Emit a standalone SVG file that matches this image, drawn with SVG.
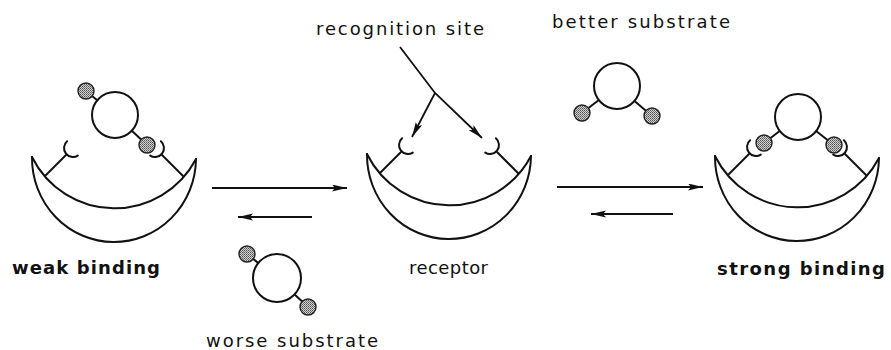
<svg xmlns="http://www.w3.org/2000/svg" xmlns:xlink="http://www.w3.org/1999/xlink" width="891" height="350" viewBox="0 0 891 350">
  <style>
    .ln { fill: none; stroke: #111; stroke-width: 2; stroke-linecap: round; stroke-linejoin: round; }
    .ring { fill: #fff; stroke: #111; stroke-width: 2; }
    .ball { fill: url(#stipple); stroke: #222; stroke-width: 1.4; }
    .bond { stroke: #111; stroke-width: 2; }
    .arrow { fill: none; stroke: #111; stroke-width: 1.8; marker-end: url(#head); }
    .lbl { font-family: "DejaVu Sans", "Liberation Sans", sans-serif; font-size: 18px; fill: #111; }
    .bold { font-weight: bold; }
  </style>
  <defs>
    <pattern id="stipple" width="2" height="2" patternUnits="userSpaceOnUse">
      <rect width="2" height="2" fill="#cfcfcf"/>
      <rect width="1" height="1" fill="#555"/>
      <rect x="1" y="1" width="1" height="1" fill="#777"/>
    </pattern>
    <marker id="head" markerUnits="userSpaceOnUse" markerWidth="16" markerHeight="8" refX="15" refY="3.5" orient="auto">
      <path d="M0,0 L15,3.5 L0,7 L3,3.5 Z" fill="#111"/>
    </marker>
    <!-- crescent receptor with two cup-shaped recognition sites; origin at left tip -->
    <g id="receptor-shape">
      <path class="ln" d="M0,0 A82,84 0 0 0 164,2"/>
      <path class="ln" d="M0,0 A92,92 0 0 0 164,2"/>
      <path class="ln" d="M13,19 L34,-2"/>
      <path class="ln" d="M151,19 L130,-2"/>
      <path class="ln" d="M35.1,-15.8 A9,9 0 0 0 45.8,-1.4"/>
      <path class="ln" d="M128.9,-15.8 A9,9 0 0 1 118.2,-1.4"/>
    </g>
  </defs>

  <!-- receptor holding the worse substrate -->
  <g id="weak-complex">
    <use xlink:href="#receptor-shape" href="#receptor-shape" transform="translate(32,157)"/>
    <line class="bond" x1="115" y1="115" x2="86" y2="91"/>
    <line class="bond" x1="115" y1="115" x2="147" y2="145"/>
    <circle class="ring" cx="115" cy="115" r="23"/>
    <circle class="ball" cx="86" cy="91" r="8"/>
    <circle class="ball" cx="147" cy="145" r="8"/>
    <text class="lbl bold" x="12" y="274" textLength="148">weak binding</text>
  </g>

  <!-- free receptor -->
  <g id="receptor">
    <use xlink:href="#receptor-shape" href="#receptor-shape" transform="translate(367,154)"/>
    <text class="lbl" x="409" y="274" textLength="79">receptor</text>
  </g>

  <!-- receptor holding the better substrate -->
  <g id="strong-complex">
    <use xlink:href="#receptor-shape" href="#receptor-shape" transform="translate(715,156)"/>
    <line class="bond" x1="798" y1="117" x2="764" y2="143"/>
    <line class="bond" x1="798" y1="117" x2="834" y2="145"/>
    <circle class="ring" cx="798" cy="117" r="23"/>
    <circle class="ball" cx="764" cy="143" r="8"/>
    <circle class="ball" cx="834" cy="145" r="8"/>
    <text class="lbl bold" x="717" y="275" textLength="168">strong binding</text>
  </g>

  <!-- better substrate -->
  <g id="better-substrate">
    <line class="bond" x1="617" y1="86" x2="582" y2="113"/>
    <line class="bond" x1="617" y1="86" x2="652" y2="116"/>
    <circle class="ring" cx="617" cy="86" r="23"/>
    <circle class="ball" cx="582" cy="113" r="8"/>
    <circle class="ball" cx="652" cy="116" r="8"/>
    <text class="lbl" x="552" y="28" textLength="178">better substrate</text>
  </g>

  <!-- worse substrate -->
  <g id="worse-substrate">
    <line class="bond" x1="277" y1="278" x2="247" y2="254"/>
    <line class="bond" x1="277" y1="278" x2="308" y2="307"/>
    <circle class="ring" cx="277" cy="278" r="24"/>
    <circle class="ball" cx="247" cy="254" r="8"/>
    <circle class="ball" cx="308" cy="307" r="8"/>
    <text class="lbl" x="206" y="347" textLength="172">worse substrate</text>
  </g>

  <!-- recognition site label -->
  <g id="recognition-site">
    <text class="lbl" x="316" y="35" textLength="168">recognition site</text>
  </g>

  <!-- equilibrium arrows and pointers -->
  <g id="connectors">
    <line class="arrow" x1="212" y1="188" x2="347" y2="188"/>
    <line class="arrow" x1="312" y1="217" x2="238" y2="217"/>
    <line class="arrow" x1="557" y1="187" x2="703" y2="187"/>
    <line class="arrow" x1="673" y1="214" x2="591" y2="214"/>
    <path class="arrow" d="M400,47 L435,93 L482,138"/>
    <path class="arrow" d="M435,93 L412,137"/>
  </g>
</svg>
